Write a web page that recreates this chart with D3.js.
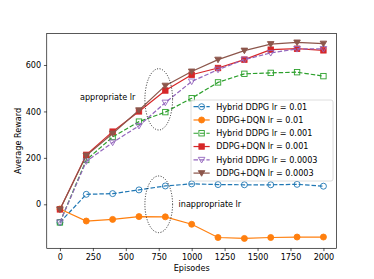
<!DOCTYPE html>
<html>
<head>
<meta charset="utf-8">
<script src="https://cdn.jsdelivr.net/npm/d3@7"></script>
<style>
  body { margin: 0; background: #fff; }
  svg { display: block; font-family: "DejaVu Sans", sans-serif; }
</style>
</head>
<body>
<svg id="chart" width="374" height="279"></svg>
<script>
// episodes on the x axis
var episodes = [0, 200, 400, 600, 800, 1000, 1200, 1400, 1600, 1800, 2000]

var hybridLr01 = [-78, 43, 46, 62, 79, 88, 85, 84, 84, 86, 78]
var dqnLr01 = [-20, -72, -65, -53, -54, -86, -143, -147, -143, -141, -141]
var hybridLr001 = [-78, 191, 290, 356, 397, 457, 525, 562, 566, 569, 552]
var dqnLr001 = [-22, 213, 313, 400, 490, 558, 587, 623, 666, 670, 663]
var hybridLr0003 = [-78, 185, 266, 338, 438, 529, 580, 623, 652, 669, 669]
var dqnLr0003 = [-22, 210, 305, 405, 511, 572, 623, 662, 690, 697, 692]

var seriesNames = ["Hybrid DDPG lr = 0.01", "DDPG+DQN lr = 0.01", "Hybrid DDPG lr = 0.001",
    "DDPG+DQN lr = 0.001", "Hybrid DDPG lr = 0.0003", "DDPG+DQN lr = 0.0003"]
var xTicks = [0, 250, 500, 750, 1000, 1250, 1500, 1750, 2000]
var yTicks = [0, 200, 400, 600]

var series = [
    { name: seriesNames[0], values: hybridLr01, color: "#1f77b4", marker: "circle", hollow: true, dashed: true },
    { name: seriesNames[1], values: dqnLr01, color: "#ff7f0e", marker: "circle", hollow: false, dashed: false },
    { name: seriesNames[2], values: hybridLr001, color: "#2ca02c", marker: "square", hollow: true, dashed: true },
    { name: seriesNames[3], values: dqnLr001, color: "#d62728", marker: "square", hollow: false, dashed: false },
    { name: seriesNames[4], values: hybridLr0003, color: "#9467bd", marker: "tri", hollow: true, dashed: true },
    { name: seriesNames[5], values: dqnLr0003, color: "#8c564b", marker: "tri", hollow: false, dashed: false }
]

var dims = { width: 374, height: 279, margin: { top: 33.5, bottom: 30.7, left: 46.75, right: 37.4 } }
var fs = 8.1

var svg = d3.select("#chart")

var xScale = d3.scaleLinear()
    .domain([-100, 2100])
    .range([dims.margin.left, dims.width - dims.margin.right])

var yScale = d3.scaleLinear()
    .domain([-189.5, 735.6])
    .range([dims.height - dims.margin.bottom, dims.margin.top])

// axes
var xAxis = svg.append("g")
    .attr("transform", `translate(0,${dims.height - dims.margin.bottom})`)
    .call(d3.axisBottom(xScale).tickValues(xTicks).tickFormat(d3.format("d"))
        .tickSize(2.84).tickPadding(2.8).tickSizeOuter(0))
var yAxis = svg.append("g")
    .attr("transform", `translate(${dims.margin.left},0)`)
    .call(d3.axisLeft(yScale).tickValues(yTicks).tickFormat(d3.format("d"))
        .tickSize(2.84).tickPadding(2.8).tickSizeOuter(0))

svg.selectAll(".domain").remove()
svg.selectAll(".tick line").attr("stroke", "#000").attr("stroke-width", 0.65)
svg.selectAll(".tick text").attr("font-size", fs).attr("font-family", "DejaVu Sans").attr("fill", "#000")

var lineGen = d3.line()
    .x((d, i) => xScale(episodes[i]))
    .y(d => yScale(d))

function drawMarker(g, type, x, y, color, hollow, r) {
    var fill = hollow ? "none" : color
    if (type == "circle") {
        g.append("circle").attr("cx", x).attr("cy", y).attr("r", r)
            .attr("fill", fill).attr("stroke", color).attr("stroke-width", 0.9)
    } else if (type == "square") {
        g.append("rect").attr("x", x - r * 0.9).attr("y", y - r * 0.9)
            .attr("width", r * 1.8).attr("height", r * 1.8)
            .attr("fill", fill).attr("stroke", color).attr("stroke-width", 0.9)
    } else {
        var s = r * 1.1
        g.append("path")
            .attr("d", `M${x - s},${y - s * 0.75}L${x + s},${y - s * 0.75}L${x},${y + s * 0.95}Z`)
            .attr("fill", fill).attr("stroke", color).attr("stroke-width", 0.9)
    }
}

var plot = svg.append("g")

series.forEach(function (s) {
    var g = plot.append("g")
    g.append("path")
        .datum(s.values)
        .attr("d", lineGen)
        .attr("fill", "none")
        .attr("stroke", s.color)
        .attr("stroke-width", 1.22)
        .attr("stroke-dasharray", s.dashed ? "4.5,1.95" : null)
    s.values.forEach(function (v, i) {
        drawMarker(g, s.marker, xScale(episodes[i]), yScale(v), s.color, s.hollow, 3)
    })
})

// dotted ellipses and notes
var notes = [
    { ep: 750, val: 452, rx: 105, ry: 132, label: "appropriate lr" },
    { ep: 750, val: 0, rx: 105, ry: 122, label: "inappropriate lr" }
]
notes.forEach(function (n) {
    var cx = xScale(n.ep), cy = yScale(n.val)
    svg.append("ellipse")
        .attr("cx", cx).attr("cy", cy)
        .attr("rx", xScale(n.ep + n.rx) - cx)
        .attr("ry", cy - yScale(n.val + n.ry))
        .attr("fill", "none").attr("stroke", "#222")
        .attr("stroke-width", 1).attr("stroke-dasharray", "1,1.6")
})
svg.append("text").attr("x", 80).attr("y", 99.6).attr("font-size", fs).text(notes[0].label)
svg.append("text").attr("x", 178.5).attr("y", 206.5).attr("font-size", fs).text(notes[1].label)

// frame
svg.append("rect")
    .attr("x", dims.margin.left).attr("y", dims.margin.top)
    .attr("width", dims.width - dims.margin.left - dims.margin.right)
    .attr("height", dims.height - dims.margin.top - dims.margin.bottom)
    .attr("fill", "none").attr("stroke", "#000").attr("stroke-width", 0.65)

// legend
var legend = svg.append("g").attr("transform", "translate(191,100)")
legend.append("rect")
    .attr("width", 142).attr("height", 81).attr("rx", 2)
    .attr("fill", "#fff").attr("fill-opacity", 0.8)
    .attr("stroke", "#ccc").attr("stroke-width", 0.65)
series.forEach(function (s, i) {
    var y = 6.7 + i * 13.28
    var row = legend.append("g")
    row.append("line")
        .attr("x1", 2.5).attr("x2", 18.7).attr("y1", y).attr("y2", y)
        .attr("stroke", s.color).attr("stroke-width", 1.22)
        .attr("stroke-dasharray", s.dashed ? "4.5,1.95" : null)
    drawMarker(row, s.marker, 10.6, y, s.color, s.hollow, 3)
    row.append("text")
        .attr("x", 25.2).attr("y", y + 2.9)
        .attr("font-size", fs)
        .text(s.name)
})

// axis labels
svg.append("text")
    .attr("x", xScale(1000)).attr("y", 271)
    .attr("text-anchor", "middle").attr("font-size", fs)
    .text("Episodes")
svg.append("text")
    .attr("transform", `translate(21,${yScale(273)}) rotate(-90)`)
    .attr("text-anchor", "middle").attr("font-size", fs)
    .text("Average Reward")
</script>
</body>
</html>
